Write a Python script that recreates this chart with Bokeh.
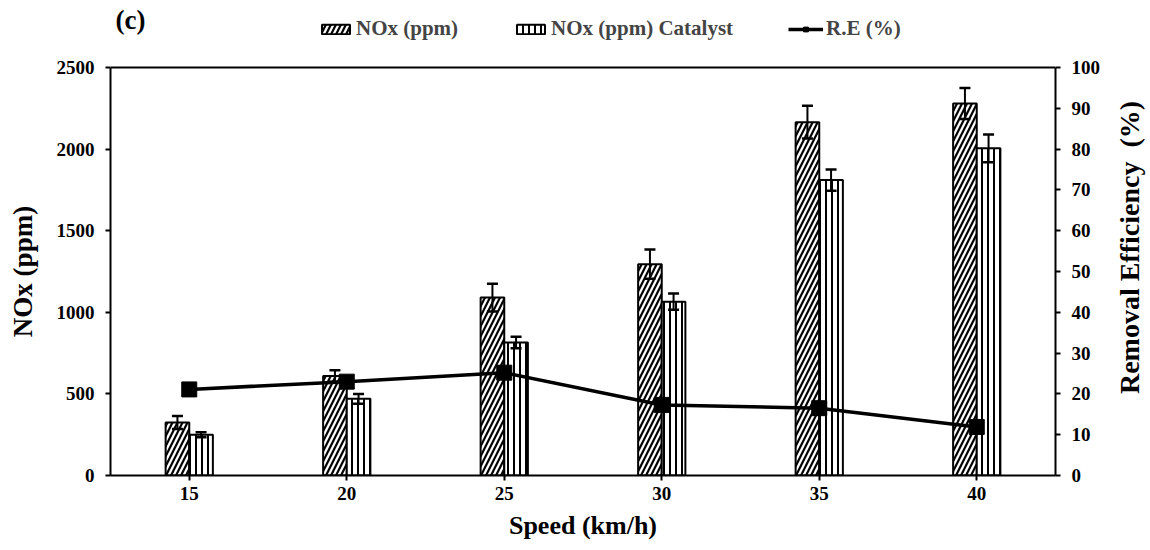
import math
from bokeh.plotting import figure
from bokeh.models import (Range1d, LinearAxis, Legend, LegendItem, ColumnDataSource,
                          FixedTicker, Label, Span)
from bokeh.transform import dodge
from bokeh.embed import file_html
from bokeh.resources import INLINE

# ---- data ----
speeds = [15, 20, 25, 30, 35, 40]
nox = [325, 610, 1090, 1295, 2165, 2280]
nox_err = [40, 35, 85, 90, 100, 95]
nox_cat = [250, 470, 815, 1065, 1810, 2005]
nox_cat_err = [15, 30, 35, 50, 65, 85]
removal_eff = [21.1, 23.0, 25.2, 17.3, 16.5, 11.9]

nox_ticks = [0, 500, 1000, 1500, 2000, 2500]
re_ticks = [0, 10, 20, 30, 40, 50, 60, 70, 80, 90, 100]
speed_ticks = [15, 20, 25, 30, 35, 40]
NOX_MAX = 2500
RE_MAX = 100

FONT = "Liberation Serif"
BAR_W = 0.75
OFF = 0.375

# layout: the drawing frame runs to the top of the page so the header
# (panel letter + legend) is not clipped; the visible box stops at the axis maxima.
H, BOTTOM = 550, 75
FRAME_H = H - BOTTOM          # 475 px
BOX_H = 408                   # px from bottom axis to top of the visible box
SCALE = FRAME_H / BOX_H

src = ColumnDataSource(dict(
    speed=speeds,
    nox=nox,
    nox_hi=[v + e for v, e in zip(nox, nox_err)],
    nox_lo=[v - e for v, e in zip(nox, nox_err)],
    cat=nox_cat,
    cat_hi=[v + e for v, e in zip(nox_cat, nox_cat_err)],
    cat_lo=[v - e for v, e in zip(nox_cat, nox_cat_err)],
    re=removal_eff,
))

p = figure(width=1150, height=H, output_backend="svg", toolbar_location=None,
           x_range=Range1d(12.5, 42.5), y_range=Range1d(0, NOX_MAX * SCALE),
           min_border_left=110, min_border_right=95, min_border_top=0,
           min_border_bottom=BOTTOM)
p.extra_y_ranges = {"re": Range1d(0, RE_MAX * SCALE)}
p.xgrid.visible = False
p.ygrid.visible = False
p.outline_line_color = None
p.background_fill_color = "white"
p.border_fill_color = "white"

# top edge of the box
p.add_layout(Span(location=NOX_MAX, dimension="width", line_color="black", line_width=2))

# bars
b1 = p.vbar(x=dodge("speed", -OFF, range=p.x_range), top="nox", width=BAR_W, source=src,
            fill_color="white", line_color="black", line_width=2,
            hatch_pattern="/", hatch_color="black", hatch_weight=2.2, hatch_scale=10)
b2 = p.vbar(x=dodge("speed", OFF, range=p.x_range), top="cat", width=BAR_W, source=src,
            fill_color="white", line_color="black", line_width=2,
            hatch_pattern="|", hatch_color="black", hatch_weight=2, hatch_scale=6)

# error bars
for col, off in (("nox", -OFF), ("cat", OFF)):
    xs = dodge("speed", off, range=p.x_range)
    p.segment(x0=xs, x1=xs, y0=col + "_lo", y1=col + "_hi", source=src,
              line_color="black", line_width=2)
    p.scatter(x=xs, y=col + "_hi", source=src, marker="dash", size=11,
              line_color="black", line_width=2.5)
    p.scatter(x=xs, y=col + "_lo", source=src, marker="dash", size=11,
              line_color="black", line_width=2.5)

# removal efficiency line
ln = p.line(x="speed", y="re", source=src, y_range_name="re", line_color="black",
            line_width=3.5)
mk = p.scatter(x="speed", y="re", source=src, y_range_name="re", marker="square",
               size=15, fill_color="black", line_color="black")

# axes
right = LinearAxis(y_range_name="re")
p.add_layout(right, "right")
p.xaxis[0].axis_label = "Speed (km/h)"
p.xaxis[0].ticker = FixedTicker(ticks=speed_ticks)
p.yaxis[0].ticker = FixedTicker(ticks=nox_ticks)
right.ticker = FixedTicker(ticks=re_ticks)
p.yaxis[0].bounds = (0, NOX_MAX)
right.bounds = (0, RE_MAX)

for ax in (p.xaxis[0], p.yaxis[0], right):
    ax.axis_line_width = 2
    ax.axis_line_color = "black"
    ax.major_tick_line_width = 2
    ax.major_tick_line_color = "black"
    ax.major_tick_out = 5
    ax.major_tick_in = 0
    ax.minor_tick_line_color = None
    ax.major_label_text_font = FONT
    ax.major_label_text_font_style = "bold"
    ax.major_label_text_font_size = "19px"
    ax.major_label_text_color = "black"
    ax.axis_label_text_font = FONT
    ax.axis_label_text_font_style = "bold"
    ax.axis_label_text_font_size = "26px"
    ax.axis_label_text_color = "black"
p.yaxis[0].major_label_standoff = 11
right.major_label_standoff = 11
p.xaxis[0].major_label_standoff = 6
p.xaxis[0].axis_label_standoff = 8

# vertical axis titles (bottom-to-top on both sides)
p.add_layout(Label(x=22, y=271, x_units="canvas", y_units="canvas", text="NOx (ppm)",
                   angle=math.pi / 2, text_font=FONT, text_font_style="bold",
                   text_font_size="27px", text_align="center", text_baseline="middle",
                   text_color="black"), "left")
p.add_layout(Label(x=1129, y=247, x_units="canvas", y_units="canvas",
                   text="Removal Efficiency\u00a0\u00a0(%)",
                   angle=math.pi / 2, text_font=FONT, text_font_style="bold",
                   text_font_size="28px", text_align="center", text_baseline="middle",
                   text_color="black"), "right")

legend = Legend(items=[
    LegendItem(label="NOx (ppm)", renderers=[b1]),
    LegendItem(label="NOx (ppm) Catalyst", renderers=[b2]),
    LegendItem(label="R.E (%)", renderers=[ln, mk]),
], orientation="horizontal", location=(208, 434), border_line_color=None,
    background_fill_alpha=0, label_text_font=FONT, label_text_font_style="bold",
    label_text_font_size="21px", glyph_width=35, glyph_height=12, spacing=55,
    label_standoff=3, padding=0, margin=0)
p.add_layout(legend, "center")

p.add_layout(Label(x=115, y=19, x_units="canvas", y_units="canvas", text="(c)",
                   text_font=FONT, text_font_style="bold", text_font_size="27px",
                   text_baseline="middle", text_align="left", text_color="black"))

open("out.html", "w").write(file_html(p, INLINE))
